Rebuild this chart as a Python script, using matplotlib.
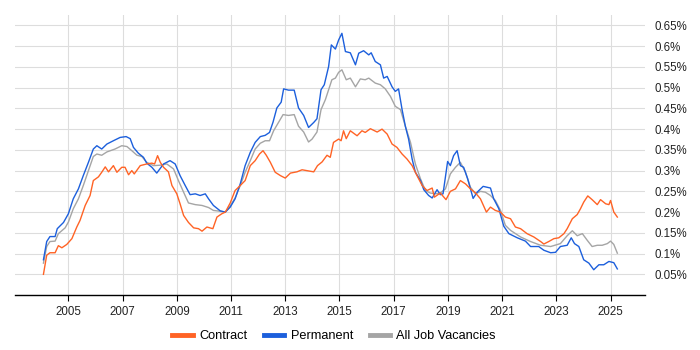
import matplotlib
matplotlib.use("Agg")
import matplotlib.pyplot as plt
from matplotlib.ticker import FuncFormatter, MultipleLocator
from matplotlib.lines import Line2D

plt.rcParams['font.family'] = ['Liberation Sans', 'DejaVu Sans']

perm_years = [2004.08, 2004.20, 2004.32, 2004.51, 2004.59, 2004.82, 2005.00, 2005.18, 2005.37, 2005.55,
              2005.74, 2005.92, 2006.05, 2006.23, 2006.42, 2006.66, 2006.91, 2007.13, 2007.28, 2007.40,
              2007.58, 2007.77, 2007.89, 2008.08, 2008.26, 2008.51, 2008.75, 2008.94, 2009.12, 2009.31,
              2009.49, 2009.68, 2009.86, 2010.05, 2010.17, 2010.35, 2010.60, 2010.79, 2010.97, 2011.15,
              2011.34, 2011.52, 2011.71, 2011.89, 2012.08, 2012.26, 2012.42, 2012.55, 2012.69, 2012.85,
              2012.94, 2013.12, 2013.33, 2013.49, 2013.68, 2013.86, 2014.05, 2014.17, 2014.32, 2014.44,
              2014.60, 2014.70, 2014.85, 2014.97, 2015.09, 2015.22, 2015.40, 2015.59, 2015.71, 2015.89,
              2016.08, 2016.17, 2016.32, 2016.51, 2016.63, 2016.76, 2016.94, 2017.06, 2017.18, 2017.31,
              2017.43, 2017.55, 2017.68, 2017.80, 2017.99, 2018.11, 2018.29, 2018.42, 2018.60, 2018.72,
              2018.82, 2018.99, 2019.09, 2019.21, 2019.34, 2019.46, 2019.58, 2019.73, 2019.93, 2020.08,
              2020.30, 2020.57, 2020.69, 2020.88, 2021.06, 2021.25, 2021.56, 2021.86, 2022.05, 2022.35,
              2022.54, 2022.79, 2022.97, 2023.15, 2023.40, 2023.55, 2023.67, 2023.83, 2024.01, 2024.20,
              2024.38, 2024.57, 2024.75, 2024.94, 2025.12, 2025.25]
perm_vals = [0.085, 0.129, 0.141, 0.141, 0.160, 0.175, 0.196, 0.232, 0.256, 0.288,
             0.320, 0.352, 0.360, 0.352, 0.364, 0.372, 0.380, 0.382, 0.377, 0.356,
             0.342, 0.332, 0.318, 0.308, 0.294, 0.316, 0.324, 0.316, 0.288, 0.264,
             0.242, 0.244, 0.240, 0.244, 0.232, 0.216, 0.203, 0.200, 0.212, 0.232,
             0.268, 0.312, 0.344, 0.368, 0.382, 0.385, 0.392, 0.417, 0.451, 0.465,
             0.497, 0.494, 0.494, 0.451, 0.433, 0.404, 0.416, 0.425, 0.495, 0.507,
             0.551, 0.603, 0.593, 0.615, 0.631, 0.587, 0.584, 0.555, 0.583, 0.589,
             0.579, 0.584, 0.563, 0.555, 0.523, 0.527, 0.502, 0.491, 0.497, 0.447,
             0.407, 0.376, 0.328, 0.296, 0.276, 0.254, 0.240, 0.234, 0.254, 0.242,
             0.244, 0.322, 0.312, 0.336, 0.348, 0.312, 0.308, 0.280, 0.233, 0.248,
             0.262, 0.258, 0.232, 0.208, 0.166, 0.148, 0.138, 0.130, 0.117, 0.117,
             0.108, 0.102, 0.103, 0.117, 0.120, 0.138, 0.124, 0.117, 0.085, 0.077,
             0.061, 0.073, 0.073, 0.081, 0.078, 0.063]

contract_years = [2004.08, 2004.20, 2004.32, 2004.51, 2004.63, 2004.76, 2004.94, 2005.13, 2005.31, 2005.43,
                  2005.62, 2005.80, 2005.92, 2006.11, 2006.23, 2006.36, 2006.48, 2006.66, 2006.79, 2006.97,
                  2007.09, 2007.22, 2007.34, 2007.43, 2007.65, 2007.89, 2008.08, 2008.18, 2008.29, 2008.39,
                  2008.51, 2008.69, 2008.82, 2009.00, 2009.12, 2009.25, 2009.43, 2009.62, 2009.80, 2009.93,
                  2010.11, 2010.33, 2010.48, 2010.66, 2010.79, 2010.97, 2011.15, 2011.34, 2011.52, 2011.71,
                  2011.89, 2012.05, 2012.18, 2012.30, 2012.45, 2012.63, 2012.82, 2013.00, 2013.19, 2013.43,
                  2013.62, 2013.80, 2014.05, 2014.19, 2014.36, 2014.54, 2014.66, 2014.78, 2014.97, 2015.06,
                  2015.15, 2015.25, 2015.40, 2015.65, 2015.83, 2015.95, 2016.14, 2016.39, 2016.57, 2016.76,
                  2016.94, 2017.12, 2017.31, 2017.49, 2017.68, 2017.86, 2018.05, 2018.23, 2018.42, 2018.50,
                  2018.72, 2018.93, 2019.09, 2019.28, 2019.46, 2019.65, 2019.83, 2020.02, 2020.20, 2020.42,
                  2020.57, 2020.75, 2020.94, 2021.12, 2021.31, 2021.49, 2021.68, 2021.92, 2022.17, 2022.42,
                  2022.54, 2022.72, 2022.91, 2023.09, 2023.28, 2023.40, 2023.59, 2023.77, 2023.89, 2024.01,
                  2024.16, 2024.32, 2024.51, 2024.63, 2024.82, 2024.94, 2025.00, 2025.12, 2025.25]
contract_vals = [0.050, 0.096, 0.102, 0.102, 0.119, 0.114, 0.122, 0.136, 0.164, 0.180,
                 0.216, 0.240, 0.276, 0.285, 0.296, 0.309, 0.297, 0.312, 0.296, 0.308,
                 0.308, 0.290, 0.300, 0.292, 0.312, 0.316, 0.318, 0.316, 0.336, 0.320,
                 0.308, 0.297, 0.264, 0.244, 0.220, 0.192, 0.175, 0.162, 0.160, 0.154,
                 0.164, 0.160, 0.188, 0.196, 0.200, 0.222, 0.252, 0.264, 0.276, 0.312,
                 0.324, 0.340, 0.348, 0.337, 0.320, 0.296, 0.288, 0.282, 0.294, 0.297,
                 0.302, 0.300, 0.297, 0.312, 0.321, 0.337, 0.332, 0.368, 0.376, 0.372,
                 0.396, 0.377, 0.396, 0.384, 0.396, 0.392, 0.401, 0.393, 0.400, 0.388,
                 0.364, 0.356, 0.340, 0.328, 0.312, 0.288, 0.264, 0.252, 0.258, 0.236,
                 0.246, 0.230, 0.250, 0.256, 0.276, 0.268, 0.256, 0.246, 0.232, 0.200,
                 0.212, 0.204, 0.200, 0.188, 0.184, 0.164, 0.160, 0.148, 0.140, 0.129,
                 0.123, 0.129, 0.136, 0.138, 0.148, 0.160, 0.184, 0.194, 0.208, 0.224,
                 0.239, 0.230, 0.218, 0.230, 0.220, 0.218, 0.228, 0.200, 0.188]

all_years = [2004.08, 2004.20, 2004.32, 2004.51, 2004.63, 2004.88, 2005.00, 2005.18, 2005.37, 2005.55,
             2005.74, 2005.92, 2006.05, 2006.23, 2006.42, 2006.72, 2006.97, 2007.16, 2007.34, 2007.53,
             2007.71, 2007.89, 2008.14, 2008.39, 2008.63, 2008.88, 2009.06, 2009.25, 2009.43, 2009.68,
             2009.93, 2010.17, 2010.35, 2010.60, 2010.79, 2010.97, 2011.15, 2011.34, 2011.52, 2011.71,
             2011.89, 2012.08, 2012.26, 2012.42, 2012.57, 2012.75, 2012.92, 2013.12, 2013.33, 2013.49,
             2013.68, 2013.86, 2013.99, 2014.17, 2014.32, 2014.48, 2014.60, 2014.72, 2014.85, 2014.97,
             2015.09, 2015.25, 2015.40, 2015.59, 2015.77, 2015.95, 2016.08, 2016.32, 2016.51, 2016.69,
             2016.88, 2017.06, 2017.25, 2017.43, 2017.62, 2017.80, 2017.99, 2018.17, 2018.35, 2018.54,
             2018.72, 2018.91, 2019.09, 2019.28, 2019.46, 2019.65, 2019.83, 2020.02, 2020.20, 2020.38,
             2020.57, 2020.75, 2020.94, 2021.12, 2021.31, 2021.68, 2022.05, 2022.42, 2022.79, 2023.15,
             2023.40, 2023.59, 2023.77, 2023.96, 2024.14, 2024.32, 2024.51, 2024.69, 2024.88, 2025.00,
             2025.12, 2025.25]
all_vals = [0.077, 0.117, 0.129, 0.130, 0.148, 0.162, 0.176, 0.208, 0.232, 0.264,
            0.300, 0.334, 0.340, 0.337, 0.345, 0.352, 0.360, 0.358, 0.348, 0.337,
            0.334, 0.320, 0.312, 0.313, 0.316, 0.304, 0.276, 0.248, 0.222, 0.218,
            0.216, 0.211, 0.204, 0.202, 0.200, 0.215, 0.234, 0.264, 0.296, 0.324,
            0.352, 0.366, 0.372, 0.372, 0.396, 0.416, 0.435, 0.433, 0.435, 0.407,
            0.393, 0.369, 0.376, 0.393, 0.447, 0.471, 0.495, 0.519, 0.523, 0.537,
            0.543, 0.519, 0.523, 0.502, 0.521, 0.519, 0.523, 0.511, 0.507, 0.497,
            0.479, 0.455, 0.447, 0.407, 0.368, 0.316, 0.280, 0.252, 0.246, 0.244,
            0.246, 0.256, 0.292, 0.308, 0.320, 0.296, 0.260, 0.244, 0.250, 0.248,
            0.240, 0.228, 0.204, 0.168, 0.156, 0.140, 0.129, 0.120, 0.117, 0.124,
            0.143, 0.155, 0.143, 0.148, 0.132, 0.117, 0.120, 0.120, 0.124, 0.130,
            0.122, 0.101]

series_names = ["Contract", "Permanent", "All Job Vacancies"]
colors = ["#FF6325", "#1C5FDC", "#A5A5A5"]
xtick_years = [2005, 2007, 2009, 2011, 2013, 2015, 2017, 2019, 2021, 2023, 2025]

fig = plt.figure(figsize=(7, 3.5), dpi=100)
ax = fig.add_axes([0.0214, 0.157, 0.9, 0.8])

ax.plot(all_years, all_vals, color=colors[2], lw=1.0, zorder=3)
ax.plot(perm_years, perm_vals, color=colors[1], lw=1.0, zorder=4)
ax.plot(contract_years, contract_vals, color=colors[0], lw=1.0, zorder=5)

ax.set_xlim(2003.03, 2026.27)
ax.set_ylim(0.0, 0.675)
ax.set_xticks(xtick_years)
ax.set_xticklabels([str(y) for y in xtick_years])
ax.yaxis.set_major_locator(MultipleLocator(0.05))
ax.yaxis.tick_right()
ax.yaxis.set_major_formatter(FuncFormatter(lambda v, p: ("%g" % round(v, 2)) + "%" if v > 0.01 else ""))
ax.grid(True, color="#dddddd", lw=0.8, zorder=0)
for s in ["left", "right", "top"]:
    ax.spines[s].set_visible(False)
ax.spines["bottom"].set_color("black")
ax.spines["bottom"].set_linewidth(1.0)
ax.tick_params(axis="y", length=0, pad=7, labelsize=8.3, labelcolor="#222222")
ax.tick_params(axis="x", length=4, width=0.8, pad=4, labelsize=8.3, labelcolor="#222222")

handles = [Line2D([0], [0], color=c, lw=3.5) for c in colors]
fig.legend(handles, series_names, loc="center", bbox_to_anchor=(334 / 700, 1 - 336 / 350),
           ncol=3, frameon=False, fontsize=9.2, handlelength=1.6, handletextpad=0.5,
           columnspacing=1.3)

fig.savefig("out.png", dpi=100)
